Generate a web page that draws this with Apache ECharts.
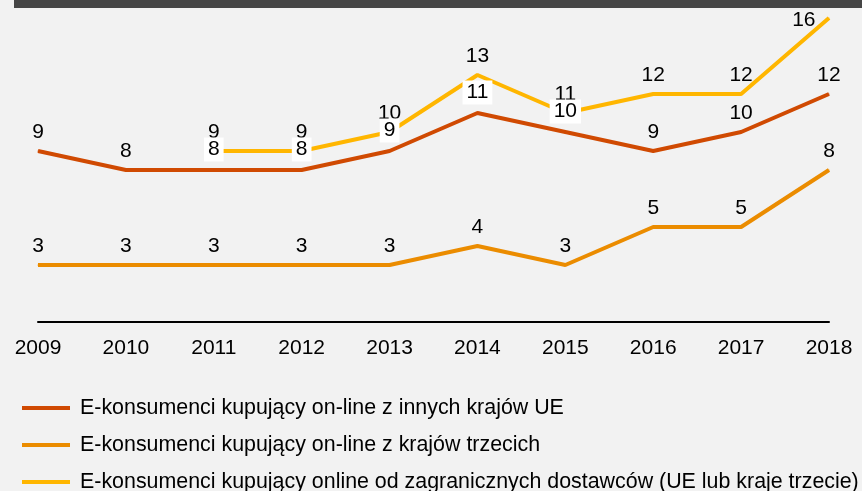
<!DOCTYPE html>
<html>
<head>
<meta charset="utf-8">
<script src="https://cdn.jsdelivr.net/npm/echarts@6/dist/echarts.min.js"></script>
<style>
	html, body { margin: 0; padding: 0; background: #f2f2f2; }
	#chart { width: 862px; height: 491px; }
</style>
</head>
<body>
<div id="chart"></div>
<script>
var years = ['2009', '2010', '2011', '2012', '2013', '2014', '2015', '2016', '2017', '2018'];
var innychUE = [9, 8, 8, 8, 9, 11, 10, 9, 10, 12];
var trzecich = [3, 3, 3, 3, 3, 4, 3, 5, 5, 8];
var zagranicznych = [null, null, 9, 9, 10, 13, 11, 12, 12, 16];
var names = [
	'E-konsumenci kupujący on-line z innych krajów UE',
	'E-konsumenci kupujący on-line z krajów trzecich',
	'E-konsumenci kupujący online od zagranicznych dostawców (UE lub kraje trzecie)'
];
var colors = ['#d04a02', '#eb8c00', '#ffb600'];
var boxedIdx = [2, 3, 4, 5, 6];	// etykiety z białym tłem

var font = 'Liberation Sans, Arial, sans-serif';

function ueData() {
	var out = [];
	for (var i = 0; i < innychUE.length; i++) {
		if (boxedIdx.indexOf(i) >= 0) {
			out.push({ value: innychUE[i], label: { backgroundColor: '#ffffff', padding: [1, 4, 1, 4], distance: 8 } });
		} else {
			out.push(innychUE[i]);
		}
	}
	return out;
}

function zagrData() {
	var out = [];
	for (var i = 0; i < zagranicznych.length; i++) {
		if (i == zagranicznych.length - 1)
			out.push({ value: zagranicznych[i], label: { position: 'left', distance: 13, offset: [0, 2] } });
		else
			out.push(zagranicznych[i]);
	}
	return out;
}

var lbl = {
	show: true,
	position: 'top',
	distance: 7,
	color: '#000',
	fontFamily: font,
	fontSize: 21,
	lineHeight: 22
};

var myChart = echarts.init(document.getElementById('chart'));
var option = {
	backgroundColor: '#f2f2f2',
	animation: false,
	color: colors,
	graphic: [{
		type: 'rect',
		shape: { x: 14, y: 0, width: 848, height: 8 },
		style: { fill: '#464646' }
	}],
	grid: { left: 38, right: 33, top: 18, bottom: 169 },
	xAxis: {
		type: 'category',
		data: years,
		boundaryGap: false,
		axisLine: { lineStyle: { color: '#000', width: 2 } },
		axisTick: { show: false },
		axisLabel: { color: '#000', fontFamily: font, fontSize: 21, margin: 16 }
	},
	yAxis: {
		type: 'value',
		min: 0,
		max: 16,
		show: false,
		splitLine: { show: false }
	},
	legend: {
		orient: 'vertical',
		left: 22,
		top: 397,
		height: 100,
		padding: 0,
		data: names,
		icon: 'rect',
		itemWidth: 48,
		itemHeight: 4,
		itemGap: 15,
		textStyle: { color: '#000', fontFamily: font, fontSize: 21.4, lineHeight: 22, padding: [0, 0, 0, 5] }
	},
	series: [{
		name: names[0],
		type: 'line',
		z: 4,
		data: ueData(),
		symbol: 'circle',
		symbolSize: 1,
		lineStyle: { width: 4, color: colors[0] },
		itemStyle: { color: colors[0] },
		label: lbl
	}, {
		name: names[1],
		type: 'line',
		z: 3,
		data: trzecich,
		symbol: 'circle',
		symbolSize: 1,
		lineStyle: { width: 4, color: colors[1] },
		itemStyle: { color: colors[1] },
		label: lbl
	}, {
		name: names[2],
		type: 'line',
		z: 2,
		data: zagrData(),
		symbol: 'circle',
		symbolSize: 1,
		lineStyle: { width: 4, color: colors[2] },
		itemStyle: { color: colors[2] },
		label: lbl
	}]
};
myChart.setOption(option);
</script>
</body>
</html>
